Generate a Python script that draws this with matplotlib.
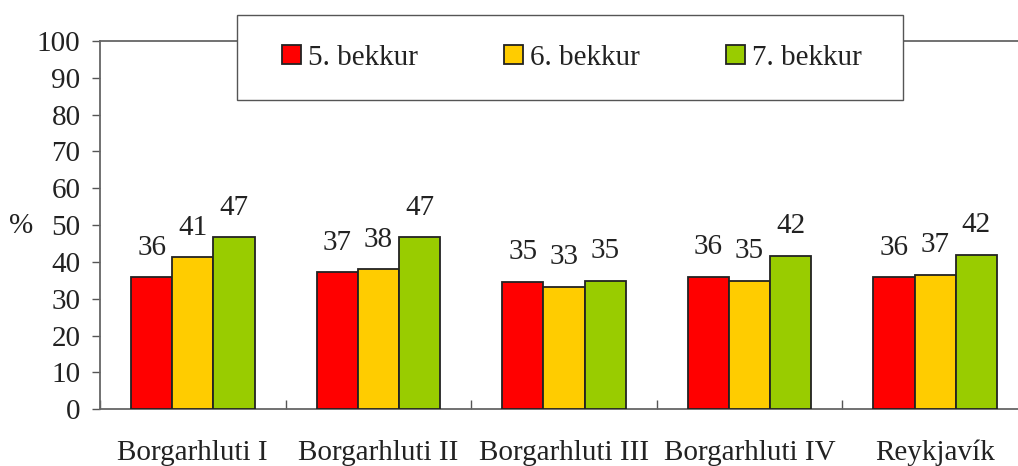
import matplotlib
matplotlib.use("Agg")
import matplotlib.pyplot as plt
from matplotlib.patches import Rectangle
import numpy as np

# data
hverfi = ["Borgarhluti I", "Borgarhluti II", "Borgarhluti III", "Borgarhluti IV", "Reykjavík"]
bekkir = ["5. bekkur", "6. bekkur", "7. bekkur"]
b5 = [35.8, 37.2, 34.6, 36.0, 35.8]
b6 = [41.3, 38.0, 33.2, 34.9, 36.6]
b7 = [46.7, 46.7, 34.9, 41.7, 42.0]
litir = ["#FF0000", "#FFCC00", "#99CC00"]

plt.rcParams["font.family"] = ["Liberation Serif", "DejaVu Serif"]
fs = 21

fig = plt.figure(figsize=(10.18, 4.66), dpi=100)
ax = fig.add_axes([100 / 1018, 1 - 409.3 / 466, 928 / 1018, 368.3 / 466])

x = np.arange(len(hverfi))
w = 0.222
handles = []
for i, (vals, lit) in enumerate(zip([b5, b6, b7], litir)):
    bars = ax.bar(x + (i - 1) * w, vals, w, color=lit, edgecolor="#222222",
                  linewidth=1.3, zorder=3, label=bekkir[i])
    handles.append(bars)
    for xi, v in zip(x + (i - 1) * w, vals):
        ax.annotate(f"{round(v):d}", (xi, v), xytext=(0, 12), textcoords="offset points",
                    ha="center", va="bottom", fontsize=fs, color="#222222")

ax.set_xlim(-0.5, len(hverfi) - 0.5)
ax.set_ylim(0, 100)
ax.set_yticks(range(0, 101, 10))
ax.tick_params(axis="y", direction="out", length=6, width=1, color="#555555",
               labelsize=fs, pad=8, labelcolor="#222222")

# ticks at category boundaries, labels at centres
ax.set_xticks(np.arange(-0.5, len(hverfi), 1))
ax.set_xticklabels([])
ax.tick_params(axis="x", which="major", direction="in", length=6.5, width=1, color="#555555")
ax.set_xticks(x, minor=True)
ax.set_xticklabels(hverfi, minor=True, fontsize=fs, color="#222222")
ax.tick_params(axis="x", which="minor", length=0, pad=36.5)
for lab in ax.get_xticklabels(minor=True):
    lab.set_va("baseline")

for s in ["left", "bottom", "top"]:
    ax.spines[s].set_color("#666666")
    ax.spines[s].set_linewidth(1.3)
ax.spines["right"].set_visible(False)

fig.text(21 / 1018, 1 - 226 / 466, "%", fontsize=fs, ha="center", va="center", color="#222222")

# legend box
fig.patches.append(Rectangle((237 / 1018, 1 - 100 / 466), 666 / 1018, 85 / 466,
                             transform=fig.transFigure, facecolor="white",
                             edgecolor="#555555", linewidth=1, zorder=5))
fig.legend(handles=handles, labels=bekkir, loc="center", bbox_to_anchor=(572 / 1018, 1 - 58 / 466),
           ncol=3, frameon=False, fontsize=fs, handlelength=0.65, handleheight=0.65,
           handletextpad=0.25, columnspacing=2.95, labelcolor="#222222").set_zorder(6)

fig.savefig("out.png", dpi=100)
